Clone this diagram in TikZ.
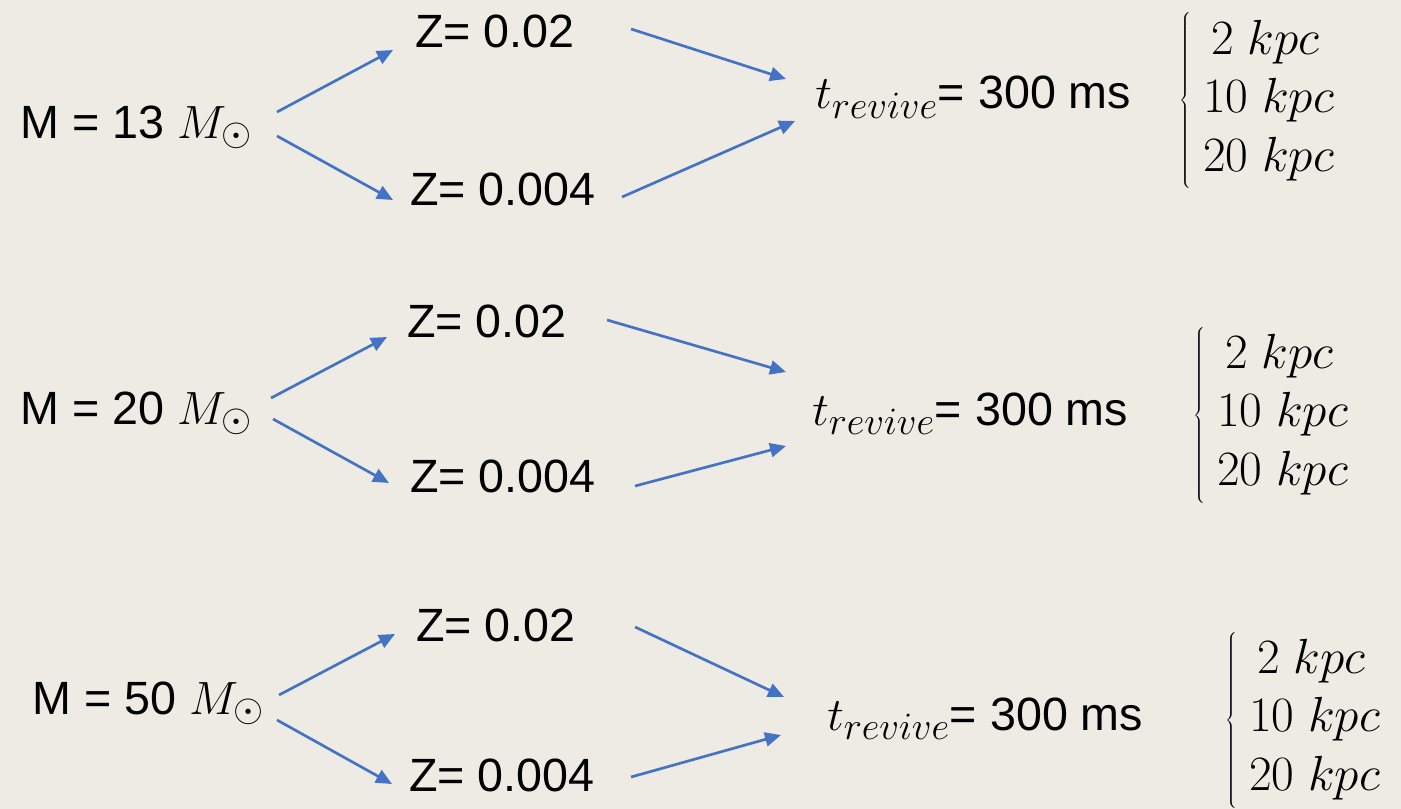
\RequirePackage{fix-cm}
\documentclass[tikz,border=0pt]{standalone}
\usepackage[no-math]{fontspec}
\setmainfont{Liberation Sans}
\usetikzlibrary{arrows.meta}
\DeclareMathSizes{35}{35}{29}{20}
\DeclareMathSizes{37}{37}{29}{20}
\definecolor{bg}{HTML}{EEEBE4}
\definecolor{arrowblue}{HTML}{4472C4}
\newcommand{\kpclist}{$\left\{\begin{array}{@{\hspace{9pt}}l@{}}\,2\;kpc\\10\;kpc\\20\;kpc\end{array}\right.$}
\begin{document}
\begin{tikzpicture}[x=0.75pt,y=-0.75pt,
  lbl/.style={anchor=base west, inner sep=0pt, font=\fontsize{35}{42}\selectfont},
  dist/.style={anchor=west, inner sep=0pt, font=\fontsize{37}{43.9}\selectfont},
  arr/.style={draw=arrowblue, line width=2pt, -{Triangle[length=12pt,width=10.5pt]}}]
\useasboundingbox[fill=bg] (0,0) rectangle (1401,809);

% ---------- row 1 ----------
\node[lbl] (m1) at (20,139) {M = 13 $M_\odot$};
\node[lbl] (za1) at (415,48) {Z= 0.02};
\node[lbl] (zb1) at (410,206) {Z= 0.004};
\node[lbl] (t1) at (815,109) {$t_{revive}$= 300 ms};
\node[dist] (d1) at (1179,101) {\kpclist};
\draw[arr] ([shift={(257,-27)}]m1.base west) -- ([shift={(-22,2)}]za1.base west);
\draw[arr] ([shift={(257,-3)}]m1.base west) -- ([shift={(-17,-6)}]zb1.base west);
\draw[arr] ([shift={(56,-19)}]za1.base east) -- ([shift={(-29,-30)}]t1.base west);
\draw[arr] ([shift={(26,-9)}]zb1.base east) -- ([shift={(-20,12)}]t1.base west);

% ---------- row 2 ----------
\node[lbl] (m2) at (20,424) {M = 20 $M_\odot$};
\node[lbl] (za2) at (407,337) {Z= 0.02};
\node[lbl] (zb2) at (410,492) {Z= 0.004};
\node[lbl] (t2) at (812,425) {$t_{revive}$= 300 ms};
\node[dist] (d2) at (1193,415) {\kpclist};
\draw[arr] ([shift={(251,-26)}]m2.base west) -- ([shift={(-20,0)}]za2.base west);
\draw[arr] ([shift={(253,-5)}]m2.base west) -- ([shift={(-21,-9)}]zb2.base west);
\draw[arr] ([shift={(40,-17)}]za2.base east) -- ([shift={(-26,-53)}]t2.base west);
\draw[arr] ([shift={(39,-6)}]zb2.base east) -- ([shift={(-26,21)}]t2.base west);

% ---------- row 3 ----------
\node[lbl] (m3) at (32,714) {M = 50 $M_\odot$};
\node[lbl] (za3) at (416,641) {Z= 0.02};
\node[lbl] (zb3) at (409,791) {Z= 0.004};
\node[lbl] (t3) at (827,730) {$t_{revive}$= 300 ms};
\node[dist] (d3) at (1225,720) {\kpclist};
\draw[arr] ([shift={(247,-19)}]m3.base west) -- ([shift={(-21,-7)}]za3.base west);
\draw[arr] ([shift={(245,6)}]m3.base west) -- ([shift={(-17,-7)}]zb3.base west);
\draw[arr] ([shift={(59,-14)}]za3.base east) -- ([shift={(-43,-33)}]t3.base west);
\draw[arr] ([shift={(36,-14)}]zb3.base east) -- ([shift={(-46,5)}]t3.base west);
\end{tikzpicture}
\end{document}
